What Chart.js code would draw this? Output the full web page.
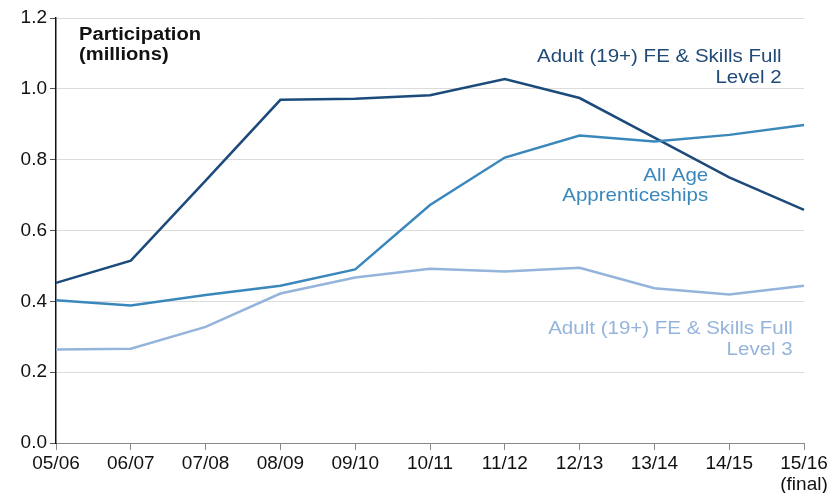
<!DOCTYPE html>
<html>
<head>
<meta charset="utf-8">
<script src="https://cdn.jsdelivr.net/npm/chart.js@4"></script>
<style>
  html, body { margin: 0; padding: 0; background: #fff; }
  #wrap { width: 831px; height: 493px; }
</style>
</head>
<body>
<div id="wrap"><canvas id="participationChart"></canvas></div>
<script>
// Академические годы
const years = ['05/06', '06/07', '07/08', '08/09', '09/10', '10/11', '11/12', '12/13', '13/14', '14/15', ['15/16', '(final)']];

// Участие, млн
const level2 = [0.452, 0.515, 0.741, 0.969, 0.972, 0.982, 1.028, 0.974, 0.862, 0.750, 0.658];
const apprenticeships = [0.403, 0.388, 0.418, 0.444, 0.490, 0.672, 0.806, 0.868, 0.851, 0.870, 0.898];
const level3 = [0.264, 0.266, 0.328, 0.422, 0.467, 0.492, 0.484, 0.495, 0.437, 0.419, 0.444];

const yTicks = [0.0, 0.2, 0.4, 0.6, 0.8, 1.0, 1.2];

const FONT = '"Liberation Sans", Arial, sans-serif';
const DARK = '#1c4b7b';
const MID = '#3a88bb';
const LIGHT = '#94b4dc';

// Подписи серий прямо на графике
const seriesLabels = [
    { lines: ['Adult (19+) FE & Skills Full', 'Level 2'], x: 9.7, y: 1.09, color: '#1f4a76' },
    { lines: ['All Age', 'Apprenticeships'], x: 8.72, y: 0.755, color: MID },
    { lines: ['Adult (19+) FE & Skills Full', 'Level 3'], x: 9.85, y: 0.322, color: LIGHT }
];

// Текст в оригинале слегка растянут по горизонтали
function stretchedText(ctx, text, x, y, sx) {
    ctx.save();
    ctx.translate(x, y);
    ctx.scale(sx, 1);
    ctx.fillText(text, 0, 0);
    ctx.restore();
}

const labelPlugin = {
    id: 'seriesLabels',
    afterDraw(chart) {
        const { ctx, scales: { x, y } } = chart;
        ctx.save();
        ctx.font = '19px ' + FONT;
        ctx.textAlign = 'right';
        ctx.textBaseline = 'middle';
        seriesLabels.forEach(l => {
            ctx.fillStyle = l.color;
            const px = x.getPixelForValue(l.x);
            const py = y.getPixelForValue(l.y);
            l.lines.forEach((t, i) => stretchedText(ctx, t, px, py + i * 20.5, 1.08));
        });
        // Заголовок оси
        ctx.font = 'bold 18px ' + FONT;
        ctx.textAlign = 'left';
        ctx.fillStyle = '#111';
        stretchedText(ctx, 'Participation', 79, 35, 1.12);
        stretchedText(ctx, '(millions)', 79, 55, 1.12);
        ctx.restore();
    }
};

const ds = (label, data, color) => ({
    label, data, borderColor: color, backgroundColor: color,
    borderWidth: 2.5, pointRadius: 0, tension: 0, fill: false
});

new Chart(document.getElementById('participationChart'), {
    type: 'line',
    data: {
        labels: years,
        datasets: [
            ds('Adult (19+) FE & Skills Full Level 3', level3, LIGHT),
            ds('All Age Apprenticeships', apprenticeships, MID),
            ds('Adult (19+) FE & Skills Full Level 2', level2, DARK)
        ]
    },
    options: {
        responsive: true,
        maintainAspectRatio: false,
        animation: false,
        layout: { padding: { top: 18, right: 27, bottom: 0, left: 0 } },
        plugins: {
            legend: { display: false },
            tooltip: { enabled: false }
        },
        scales: {
            x: {
                offset: false,
                grid: { drawOnChartArea: false, tickLength: 7, tickColor: '#888', offset: false },
                border: { color: '#888', width: 1 },
                ticks: {
                    color: '#111', font: { family: FONT, size: 19, lineHeight: 1.1 },
                    maxRotation: 0, autoSkip: false, padding: 3
                },
                afterFit(scale) { scale.height = 50; }
            },
            y: {
                min: 0, max: 1.2,
                afterBuildTicks(scale) { scale.ticks = yTicks.map(v => ({ value: v })); },
                grid: { color: '#dcdcdc', tickLength: 6, tickColor: '#555' },
                border: { color: '#111', width: 1.5 },
                ticks: {
                    color: '#111', font: { family: FONT, size: 19 }, padding: 3,
                    callback: v => v.toFixed(1)
                },
                afterFit(scale) { scale.width = 56; }
            }
        }
    },
    plugins: [labelPlugin]
});
</script>
</body>
</html>
